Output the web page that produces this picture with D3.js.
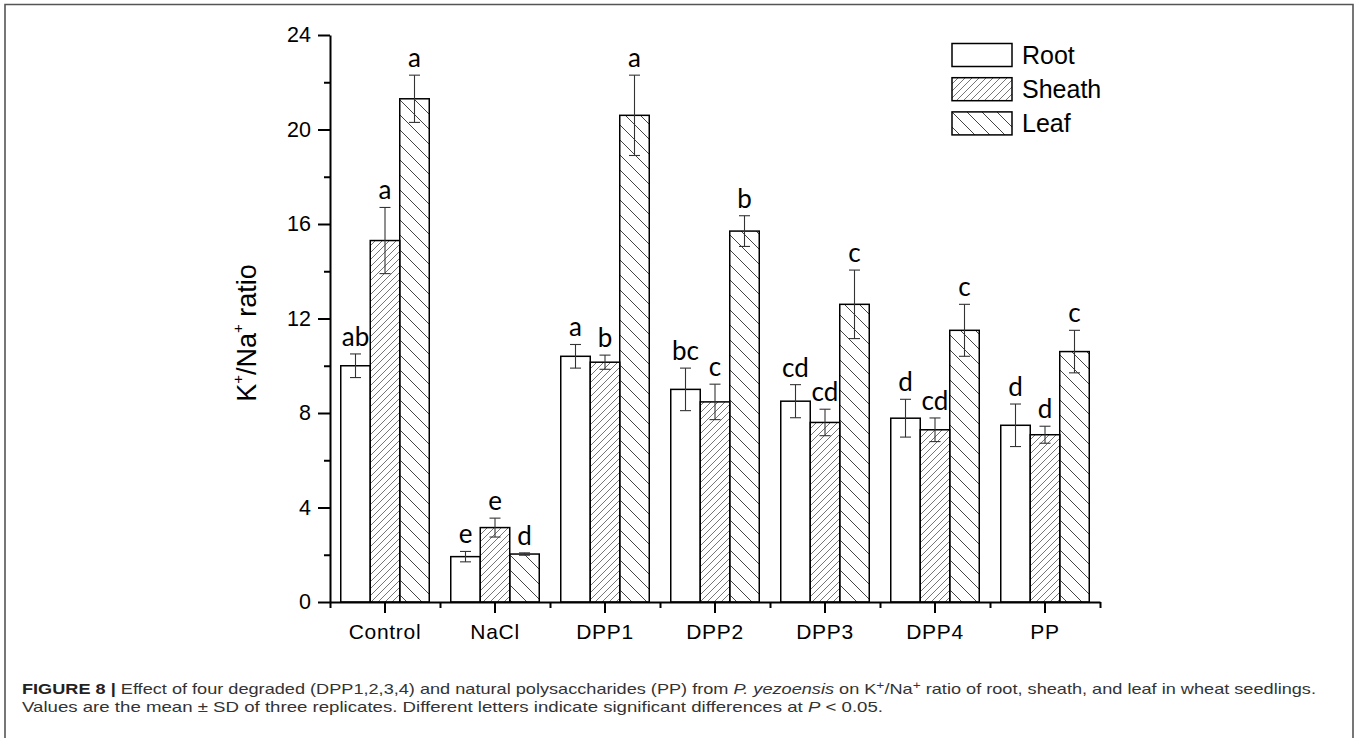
<!DOCTYPE html>
<html><head><meta charset="utf-8">
<script src="https://cdn.jsdelivr.net/npm/d3@7"></script>
<style>body{margin:0;background:#fff;}svg{display:block;}</style>
</head><body>
<svg id="c" width="1357" height="738"></svg>
<script>
const categories = ["Control","NaCl","DPP1","DPP2","DPP3","DPP4","PP"];
const seriesNames = ["Root","Sheath","Leaf"];
const rootVals   = [10.0, 1.92, 10.4, 9.0, 8.5, 7.78, 7.48];
const rootErr    = [0.5, 0.22, 0.5, 0.9, 0.7, 0.8, 0.9];
const rootLetters= ["ab","e","a","bc","cd","d","d"];
const sheathVals = [15.3, 3.15, 10.15, 8.47, 7.6, 7.29, 7.08];
const sheathErr  = [1.4, 0.4, 0.3, 0.75, 0.56, 0.5, 0.36];
const sheathLetters=["a","e","b","c","cd","cd","d"];
const leafVals   = [21.3, 2.03, 20.6, 15.7, 12.6, 11.5, 10.6];
const leafErr    = [1.0, 0.05, 1.7, 0.65, 1.45, 1.1, 0.9];
const leafLetters= ["a","d","a","b","c","c","c"];
const yTicks = [0,4,8,12,16,20,24];
const yMinor = [2,6,10,14,18,22];

const svg = d3.select("#c");
const defs = svg.append("defs");
const p1 = defs.append("pattern").attr("id","hatchS").attr("patternUnits","userSpaceOnUse")
  .attr("width",7).attr("height",7);
p1.append("path").attr("d","M-1,1 l2,-2 M0,7 l7,-7 M6,8 l2,-2").attr("stroke","#666").attr("stroke-width",0.9);
const p2 = defs.append("pattern").attr("id","hatchL").attr("patternUnits","userSpaceOnUse")
  .attr("width",15).attr("height",15);
p2.append("path").attr("d","M-1,-1 l2,2 M0,0 l15,15 M14,14 l2,2 M-1,14 l2,2 M14,-1 l2,2").attr("stroke","#444").attr("stroke-width",1);
const fills = ["#fff","url(#hatchS)","url(#hatchL)"];

svg.append("path").attr("d","M5,740 L5,4.5 L1353,4.5 L1353,740").attr("fill","none").attr("stroke","#555").attr("stroke-width",1.6);

const x = d3.scaleBand().domain(categories).range([330,1100]).padding(0);
const xb = d3.scaleLinear().domain([0,categories.length]).range([330,1100]);
const y = d3.scaleLinear().domain([0,24]).range([602,35]);
const bw = 29.5;

const series = [
  {vals:rootVals, err:rootErr, letters:rootLetters},
  {vals:sheathVals, err:sheathErr, letters:sheathLetters},
  {vals:leafVals, err:leafErr, letters:leafLetters}
];

series.forEach((s,si)=>{
  const g = svg.append("g");
  categories.forEach((c,i)=>{
    const cx = x(c) + x.bandwidth()/2 + (si-1)*bw;
    g.append("rect").attr("x",cx-bw/2).attr("y",y(s.vals[i])).attr("width",bw)
      .attr("height",y(0)-y(s.vals[i])).attr("fill",fills[si]).attr("stroke","#000").attr("stroke-width",1.5);
  });
});
series.forEach((s,si)=>{
  const g = svg.append("g").attr("stroke","#333").attr("stroke-width",1.1);
  categories.forEach((c,i)=>{
    const cx = x(c) + x.bandwidth()/2 + (si-1)*bw;
    const t = y(s.vals[i]+s.err[i]), b = y(s.vals[i]-s.err[i]);
    g.append("line").attr("x1",cx).attr("x2",cx).attr("y1",t).attr("y2",b);
    g.append("line").attr("x1",cx-5.5).attr("x2",cx+5.5).attr("y1",t).attr("y2",t);
    g.append("line").attr("x1",cx-5.5).attr("x2",cx+5.5).attr("y1",b).attr("y2",b);
    svg.append("text").attr("x",cx).attr("y",t-8).attr("text-anchor","middle")
      .attr("font-family","Lato, 'Open Sans', sans-serif").attr("font-size",26).attr("fill","#000")
      .text(s.letters[i]);
  });
});

const yAxis = svg.append("g").attr("transform","translate(330,0)")
  .call(d3.axisLeft(y).tickValues(yTicks).tickSize(12).tickSizeOuter(0).tickPadding(7).tickFormat(d3.format("d")));
svg.append("g").attr("transform","translate(330,0)")
  .call(d3.axisLeft(y).tickValues(yMinor).tickSize(6).tickSizeOuter(0).tickFormat(""))
  .select(".domain").remove();
const xAxis = svg.append("g").attr("transform","translate(0,602)")
  .call(d3.axisBottom(x).tickSize(11).tickSizeOuter(0).tickPadding(11));
svg.append("g").attr("transform","translate(0,602)")
  .call(d3.axisBottom(xb).tickValues(d3.range(categories.length+1)).tickSize(6).tickSizeOuter(0).tickFormat(""))
  .select(".domain").remove();
svg.selectAll(".domain, .tick line").attr("stroke","#000").attr("stroke-width",2);
yAxis.selectAll("text").attr("font-family","Arial, 'Liberation Sans', sans-serif").attr("font-size",21.5).attr("fill","#000");
xAxis.selectAll("text").attr("font-family","Arial, 'Liberation Sans', sans-serif").attr("font-size",21).attr("fill","#000").attr("letter-spacing",0.7);

const yl = svg.append("text").attr("transform","translate(256,333) rotate(-90)").attr("text-anchor","middle")
  .attr("font-family","Arial, 'Liberation Sans', sans-serif").attr("font-size",27).attr("fill","#000");
yl.append("tspan").text("K");
yl.append("tspan").attr("dy",-13).attr("font-size",15).text("+");
yl.append("tspan").attr("dy",13).text("/Na");
yl.append("tspan").attr("dy",-13).attr("font-size",15).text("+");
yl.append("tspan").attr("dy",13).text(" ratio");

const lg = svg.append("g");
seriesNames.forEach((n,i)=>{
  const yy = 43.5 + i*34.2;
  lg.append("rect").attr("x",952).attr("y",yy).attr("width",60).attr("height",23)
    .attr("fill",fills[i]).attr("stroke","#000").attr("stroke-width",1.5);
  lg.append("text").attr("x",1022).attr("y",yy+20).attr("font-family","Arial, 'Liberation Sans', sans-serif")
    .attr("font-size",25).attr("fill","#000").text(n);
});

const cap1 = svg.append("text").attr("x",22).attr("y",694).attr("font-family","'Liberation Sans', Arial, sans-serif")
  .attr("font-size",14.5).attr("fill","#333").attr("textLength",1294).attr("lengthAdjust","spacingAndGlyphs");
cap1.append("tspan").attr("font-weight","bold").attr("fill","#222").text("FIGURE 8 | ");
cap1.append("tspan").text("Effect of four degraded (DPP1,2,3,4) and natural polysaccharides (PP) from ");
cap1.append("tspan").attr("font-style","italic").text("P. yezoensis");
cap1.append("tspan").text(" on K");
cap1.append("tspan").attr("dy",-5).attr("font-size",11).text("+");
cap1.append("tspan").attr("dy",5).text("/Na");
cap1.append("tspan").attr("dy",-5).attr("font-size",11).text("+");
cap1.append("tspan").attr("dy",5).text(" ratio of root, sheath, and leaf in wheat seedlings.");
const cap2 = svg.append("text").attr("x",22).attr("y",712).attr("font-family","'Liberation Sans', Arial, sans-serif")
  .attr("font-size",14.5).attr("fill","#333").attr("textLength",861).attr("lengthAdjust","spacingAndGlyphs");
cap2.append("tspan").text("Values are the mean \u00B1 SD of three replicates. Different letters indicate significant differences at ");
cap2.append("tspan").attr("font-style","italic").text("P");
cap2.append("tspan").text(" < 0.05.");
</script>
</body></html>
